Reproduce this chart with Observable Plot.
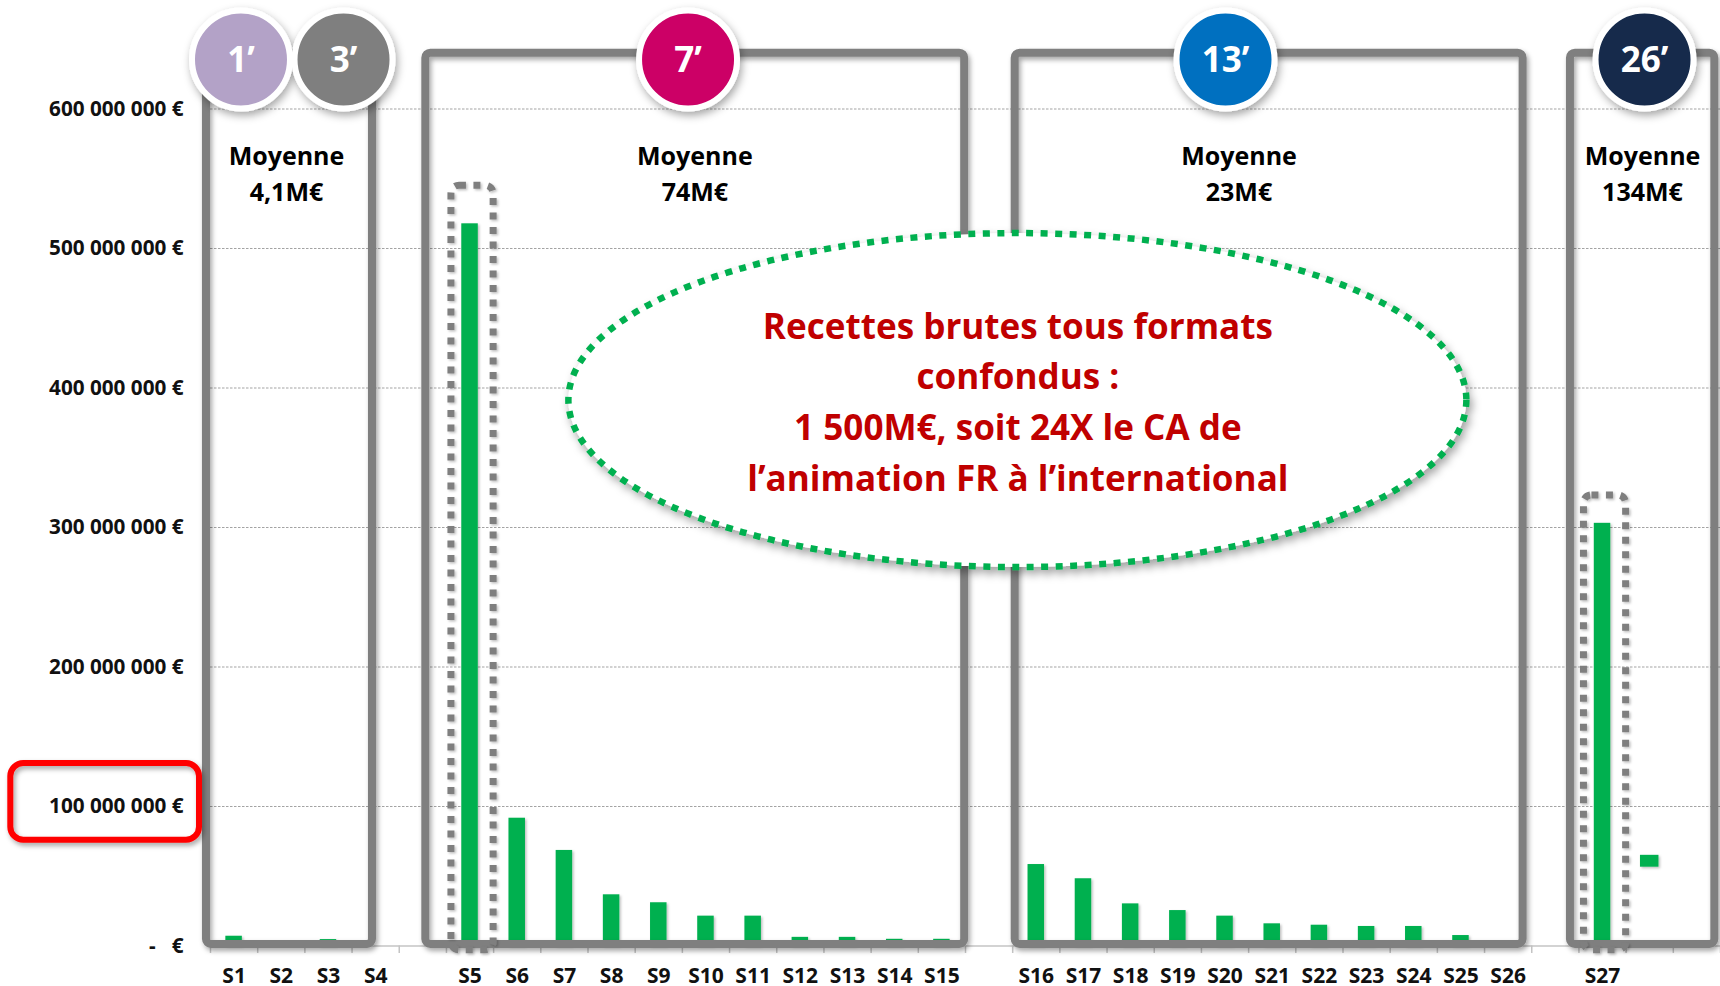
<!DOCTYPE html>
<html>
<head>
<meta charset="utf-8">
<script src="https://cdn.jsdelivr.net/npm/d3@7"></script>
<script src="https://cdn.jsdelivr.net/npm/@observablehq/plot@0.6"></script>
<style>
  html, body { margin: 0; padding: 0; background: #ffffff; overflow: hidden; }
  #chart { width: 1720px; height: 986px; }
</style>
</head>
<body>
<div id="chart"></div>
<script>
// ---------------- DATA ----------------
// One slot per category; "" = empty slot between the format groups
const categories = ["S1","S2","S3","S4","",
  "S5","S6","S7","S8","S9","S10","S11","S12","S13","S14","S15","",
  "S16","S17","S18","S19","S20","S21","S22","S23","S24","S25","S26","",
  "S27","",""];
// Gross revenue, millions of euros (null = no bar)
const revenueM = [7.0, 0, 4.6, 0, null,
  517.7, 91.6, 68.5, 36.7, 31.0, 21.4, 21.4, 6.2, 6.2, 4.8, 4.8, null,
  58.4, 48.2, 30.2, 25.4, 21.4, 15.9, 14.9, 14.0, 14.0, 7.5, 0, null,
  303.0, null, null];
// visible part of a mostly hidden bar right of S27 (low / high, M€)
const hiddenBarSlot = [30];
const hiddenBarLowM = [56.5];
const hiddenBarHighM = [65.0];

const yTicksM = [0, 100, 200, 300, 400, 500, 600];
const yTickLabels = ["-\u00a0\u00a0\u00a0€", "100 000 000 €", "200 000 000 €", "300 000 000 €",
  "400 000 000 €", "500 000 000 €", "600 000 000 €"];

const formatLabels = ["1’", "3’", "7’", "13’", "26’"];
const groupAverages = ["4,1M€", "74M€", "23M€", "134M€"];
const highlightedCategories = ["S5", "S27"];
const highlightedTick = 100;
const calloutLines = ["Recettes brutes tous formats", "confondus :",
  "1 500M€, soit 24X le CA de", "l’animation FR à l’international"];

// ---------------- LAYOUT / STYLE ----------------
const W = 1720, H = 986;
const mL = 210, mR = 0, mT = 108.5, mB = 40.5;
const nSlots = categories.length;
const slotPx = (W - mL - mR) / nSlots;
const barPx = 16.5;
const barInset = (slotPx - barPx) / 2;
const font = "'Open Sans', 'Noto Sans', sans-serif";

const formatColors = ["#B3A2C7", "#7F7F7F", "#CC0066", "#0070C0", "#13294B"];
const circleSlots = [0.646, 2.819, 10.12, 21.51, 30.39];
const circleY = 635.5;
const boxLayout = [
  {x1: -0.085, x2: 3.433, top: 640},
  {x1: 4.563, x2: 15.983, top: 640},
  {x1: 17.053, x2: 27.817, top: 640},
  {x1: 28.82, x2: 31.88, top: 640}
];
const boxBottom = 1.1;
const averageSlots = [1.61, 10.265, 21.796, 30.347];
const averageY = 578.3;
const highlightTops = [545, 323];
const callout = {slot: 17.11, y: 392.4, cy: 391, rxSlots: 9.515, ryM: 119.7};
const labelBox = {x1: -4.232, x2: -0.233, dyLow: -24.2, dyHigh: 30.8};

// ---------------- BUILD ----------------
const bars = categories.map((c, i) => ({c, slot: i, v: revenueM[i]})).filter(d => d.v != null);
const hidden = hiddenBarSlot.map((s, i) => ({slot: s, low: hiddenBarLowM[i], high: hiddenBarHighM[i]}));
const xLabels = categories.map((c, i) => ({c, slot: i})).filter(d => d.c !== "");
const highlights = highlightedCategories.map((c, i) => ({slot: categories.indexOf(c), top: highlightTops[i]}));
const circles = formatLabels.map((l, i) => ({l, slot: circleSlots[i], color: formatColors[i]}));
const averages = groupAverages.map((a, i) => ({a, slot: averageSlots[i]}));

const plot = Plot.plot({
  width: W, height: H,
  marginLeft: mL, marginRight: mR, marginTop: mT, marginBottom: mB,
  x: {domain: [0, nSlots], axis: null},
  y: {domain: [0, 600], axis: null},
  color: {type: "identity"},
  style: {fontFamily: font, background: "white", overflow: "visible"},
  marks: [
    Plot.ruleY(yTicksM.slice(1), {stroke: "#a3a3a3", strokeWidth: 1, strokeDasharray: "2.5,1.5"}),
    Plot.ruleY([0], {stroke: "#c4c4c4", strokeWidth: 1.5}),
    Plot.tickX(d3.range(nSlots + 1), {x: d => d, stroke: "#c4c4c4", strokeWidth: 1.5,
      insetTop: H - mT - mB, insetBottom: -7.5}),
    Plot.rectY(bars, {x1: "slot", x2: d => d.slot + 1, y1: () => 0, y2: "v", fill: "#00B050",
      insetLeft: barInset, insetRight: barInset, ariaDescription: "bars"}),
    Plot.rectY(hidden, {x1: "slot", x2: d => d.slot + 1, y1: "low", y2: "high", fill: "#00B050",
      insetLeft: barInset - 1, insetRight: barInset - 1, ariaDescription: "bars"}),
    Plot.rect(boxLayout, {x1: "x1", x2: "x2", y1: () => boxBottom, y2: "top", fill: "none",
      stroke: "#7F7F7F", strokeWidth: 8, rx: 5, ariaDescription: "boxes"}),
    Plot.rect(highlights, {x1: "slot", x2: d => d.slot + 1, y1: () => -3, y2: "top", fill: "none",
      stroke: "#7F7F7F", strokeWidth: 7, strokeDasharray: "7,7.5", rx: 8, insetLeft: 5, insetRight: 0,
      ariaDescription: "highlights"}),
    Plot.rect([highlightedTick], {x1: () => labelBox.x1, x2: () => labelBox.x2,
      y1: d => d + labelBox.dyLow, y2: d => d + labelBox.dyHigh, fill: "none",
      stroke: "#FF0000", strokeWidth: 6, rx: 13, ariaDescription: "labelbox"}),
    Plot.text(yTicksM, {x: () => 0, y: d => d, text: (d, i) => yTickLabels[i], textAnchor: "end",
      dx: -27, fontSize: 20.7, fontWeight: 700, fill: "#111"}),
    Plot.text(xLabels, {x: d => d.slot + 0.5, y: () => 0, text: "c", dy: 30.5,
      fontSize: 21, fontWeight: 700, fill: "#111"}),
    Plot.dot(circles, {x: "slot", y: () => circleY, r: 49, fill: "color", stroke: "white",
      strokeWidth: 6, ariaDescription: "circles"}),
    Plot.text(circles, {x: "slot", y: () => circleY, text: "l", fill: "white",
      fontSize: 35, fontWeight: 700, dy: 1}),
    Plot.text(averages, {x: "slot", y: () => averageY, text: d => "Moyenne\n" + d.a, lineAnchor: "top",
      lineHeight: 1.45, fontSize: 25, fontWeight: 700, fill: "#000"}),
    Plot.text([calloutLines.join("\n")], {x: () => callout.slot, y: () => callout.y, text: d => d,
      lineAnchor: "middle", lineHeight: 1.447, fontSize: 35.1, fontWeight: 700, fill: "#C00000",
      ariaDescription: "callout"})
  ]
});

document.getElementById("chart").appendChild(plot);

// ---------------- DECORATIONS (shadows + callout ellipse) ----------------
const svg = d3.select(plot);
const defs = svg.insert("defs", ":first-child");
function shadow(id, dx, dy, sd, op) {
  defs.append("filter").attr("id", id)
    .attr("x", "-30%").attr("y", "-30%").attr("width", "160%").attr("height", "160%")
    .append("feDropShadow").attr("dx", dx).attr("dy", dy).attr("stdDeviation", sd)
    .attr("flood-color", "#000").attr("flood-opacity", op);
}
shadow("shBox", 2, 3, 2.5, 0.35);
shadow("shCircle", 2, 4, 4, 0.35);
shadow("shBig", 3, 5, 4, 0.35);
shadow("shSmall", 1.5, 1.5, 1.2, 0.25);

svg.selectAll('g[aria-description="boxes"]').attr("filter", "url(#shBox)");
svg.selectAll('g[aria-description="circles"]').attr("filter", "url(#shCircle)");
svg.selectAll('g[aria-description="labelbox"]').attr("filter", "url(#shBox)");
svg.selectAll('g[aria-description="highlights"]').attr("filter", "url(#shSmall)");
svg.selectAll('g[aria-description="bars"]').attr("filter", "url(#shSmall)");

const xs = d3.scaleLinear([0, nSlots], [mL, W - mR]);
const ys = d3.scaleLinear([0, 600], [H - mB, mT]);
const calloutNode = svg.select('g[aria-description="callout"]').node();
const eg = calloutNode ? svg.insert("g", () => calloutNode) : svg.append("g");
eg.attr("filter", "url(#shBig)")
  .append("ellipse")
  .attr("cx", xs(callout.slot))
  .attr("cy", ys(callout.cy))
  .attr("rx", xs(callout.slot + callout.rxSlots) - xs(callout.slot))
  .attr("ry", ys(0) - ys(callout.ryM))
  .attr("fill", "white")
  .attr("stroke", "#00B050")
  .attr("stroke-width", 6.5)
  .attr("stroke-dasharray", "7,7.5");
</script>
</body>
</html>
